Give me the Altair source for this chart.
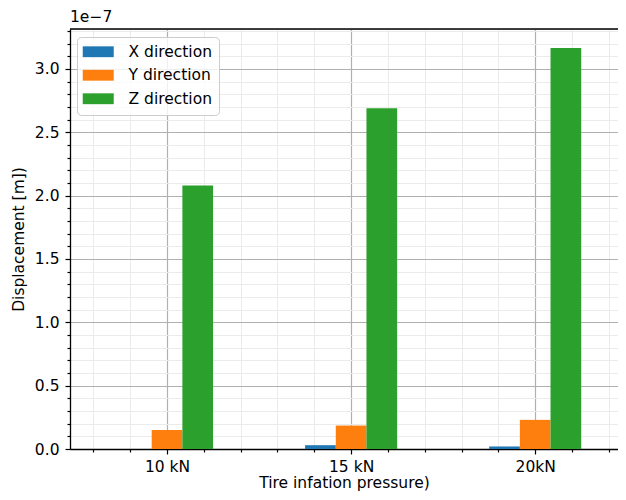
import json
import altair as alt
import pandas as pd

categories = ["10 kN", "15 kN", "20kN"]
series = ["X direction", "Y direction", "Z direction"]
x_dir = [0.0, 0.03, 0.02]
y_dir = [0.15, 0.185, 0.23]
z_dir = [2.08, 2.69, 3.165]
colors = ["#1f77b4", "#ff7f0e", "#2ca02c"]

y_major = [0.0, 0.5, 1.0, 1.5, 2.0, 2.5, 3.0]
y_minor = [0.1, 0.2, 0.3, 0.4, 0.6, 0.7, 0.8, 0.9, 1.1, 1.2, 1.3, 1.4,
           1.6, 1.7, 1.8, 1.9, 2.1, 2.2, 2.3, 2.4, 2.6, 2.7, 2.8, 2.9,
           3.1, 3.2, 3.3]
x_major = [0, 1, 2]
x_minor = [-0.4, -0.2, 0.2, 0.4, 0.6, 0.8, 1.2, 1.4, 1.6, 1.8, 2.2, 2.4]
offset_label = ["1e\u22127"]

rows = []
for i, c in enumerate(categories):
    for j, (s, vals) in enumerate(zip(series, [x_dir, y_dir, z_dir])):
        rows.append({"cat": c, "idx": i, "sidx": j, "series": s, "value": vals[i]})
df = pd.DataFrame(rows)

W, H = 548, 420
BW = 0.5 / 3
FONT = "DejaVu Sans"
FS = 15.5

xscale = alt.Scale(domain=[-0.5, -0.5 + W / 187.5], nice=False, zero=False)
yscale = alt.Scale(domain=[0, 3.315], nice=False, zero=False)

base = alt.Chart(df).transform_calculate(
    x0=f"datum.idx + (datum.sidx - 1) * {BW} - {BW / 2}",
    x1=f"datum.idx + (datum.sidx - 1) * {BW} + {BW / 2}",
)

minor = base.mark_bar(opacity=0, orient="vertical").encode(
    x=alt.X("x0:Q", scale=xscale, axis=alt.Axis(
        orient="bottom", values=x_minor, grid=True, gridColor="#ebebeb",
        gridWidth=1, ticks=True, tickSize=3, tickColor="black", tickWidth=1.2,
        labels=False, domain=False, title=None)),
    x2="x1:Q",
    y=alt.Y("value:Q", scale=yscale, axis=alt.Axis(
        orient="left", values=y_minor, grid=True, gridColor="#ebebeb",
        gridWidth=1, ticks=True, tickSize=3, tickColor="black", tickWidth=1.2,
        labels=False, domain=False, title=None)),
    y2=alt.datum(0),
)

label_expr = json.dumps(categories) + "[datum.value]"

bars = base.mark_bar(clip=True, orient="vertical").encode(
    x=alt.X("x0:Q", scale=xscale, axis=alt.Axis(
        orient="bottom", values=x_major, labelExpr=label_expr, grid=True,
        gridColor="#b0b0b0", gridWidth=1.2, tickSize=5, tickColor="black",
        tickWidth=1.2, domain=True, domainColor="black", domainWidth=1.3,
        labelFont=FONT, labelFontSize=FS, labelColor="black", labelPadding=5,
        title="Tire infation pressure)", titleFont=FONT, titleFontSize=FS,
        titleFontWeight="normal", titleColor="black",
        titleBaseline="alphabetic", titleY=38.5)),
    x2="x1:Q",
    y=alt.Y("value:Q", scale=yscale, axis=alt.Axis(
        orient="left", values=y_major, format=".1f", grid=True,
        gridColor="#b0b0b0", gridWidth=1.2, tickSize=5, tickColor="black",
        tickWidth=1.2, domain=True, domainColor="black", domainWidth=1.3,
        labelFont=FONT, labelFontSize=FS, labelColor="black", labelPadding=6,
        title="Displacement [m])", titleFont=FONT, titleFontSize=FS,
        titleFontWeight="normal", titleColor="black", titlePadding=8)),
    y2=alt.datum(0),
    color=alt.Color("series:N", scale=alt.Scale(domain=series, range=colors),
                    legend=alt.Legend(
                        title=None, orient="none", legendX=7, legendY=8,
                        symbolType="M-1.64,-0.986H3.996V0.986H-1.64Z",
                        symbolSize=121,
                        symbolStrokeWidth=0, symbolOpacity=1,
                        labelFont=FONT, labelFontSize=FS, labelColor="black",
                        labelOffset=29, rowPadding=6.5, padding=7,
                        fillColor="rgba(255,255,255,0.8)", strokeColor="#cccccc",
                        cornerRadius=4)),
)

one = pd.DataFrame({"t": offset_label})

top_spine = alt.Chart(one).mark_rule(color="black", strokeWidth=1.3).encode(
    x=alt.value(0), x2=alt.value(W), y=alt.value(0)
)

offset_text = alt.Chart(one).mark_text(
    align="left", baseline="middle", font=FONT, fontSize=FS, color="black"
).encode(text="t:N", x=alt.value(0), y=alt.value(-12))

chart = alt.layer(minor, bars, top_spine, offset_text).resolve_axis(
    x="independent", y="independent"
).properties(
    width=W, height=H,
    autosize=alt.AutoSizeParams(type="none"),
    padding={"left": 62, "top": 21, "right": 0, "bottom": 43},
).configure_view(stroke=None).configure(background="white")

chart.save("out.html", embed_options={"renderer": "svg", "actions": False})
